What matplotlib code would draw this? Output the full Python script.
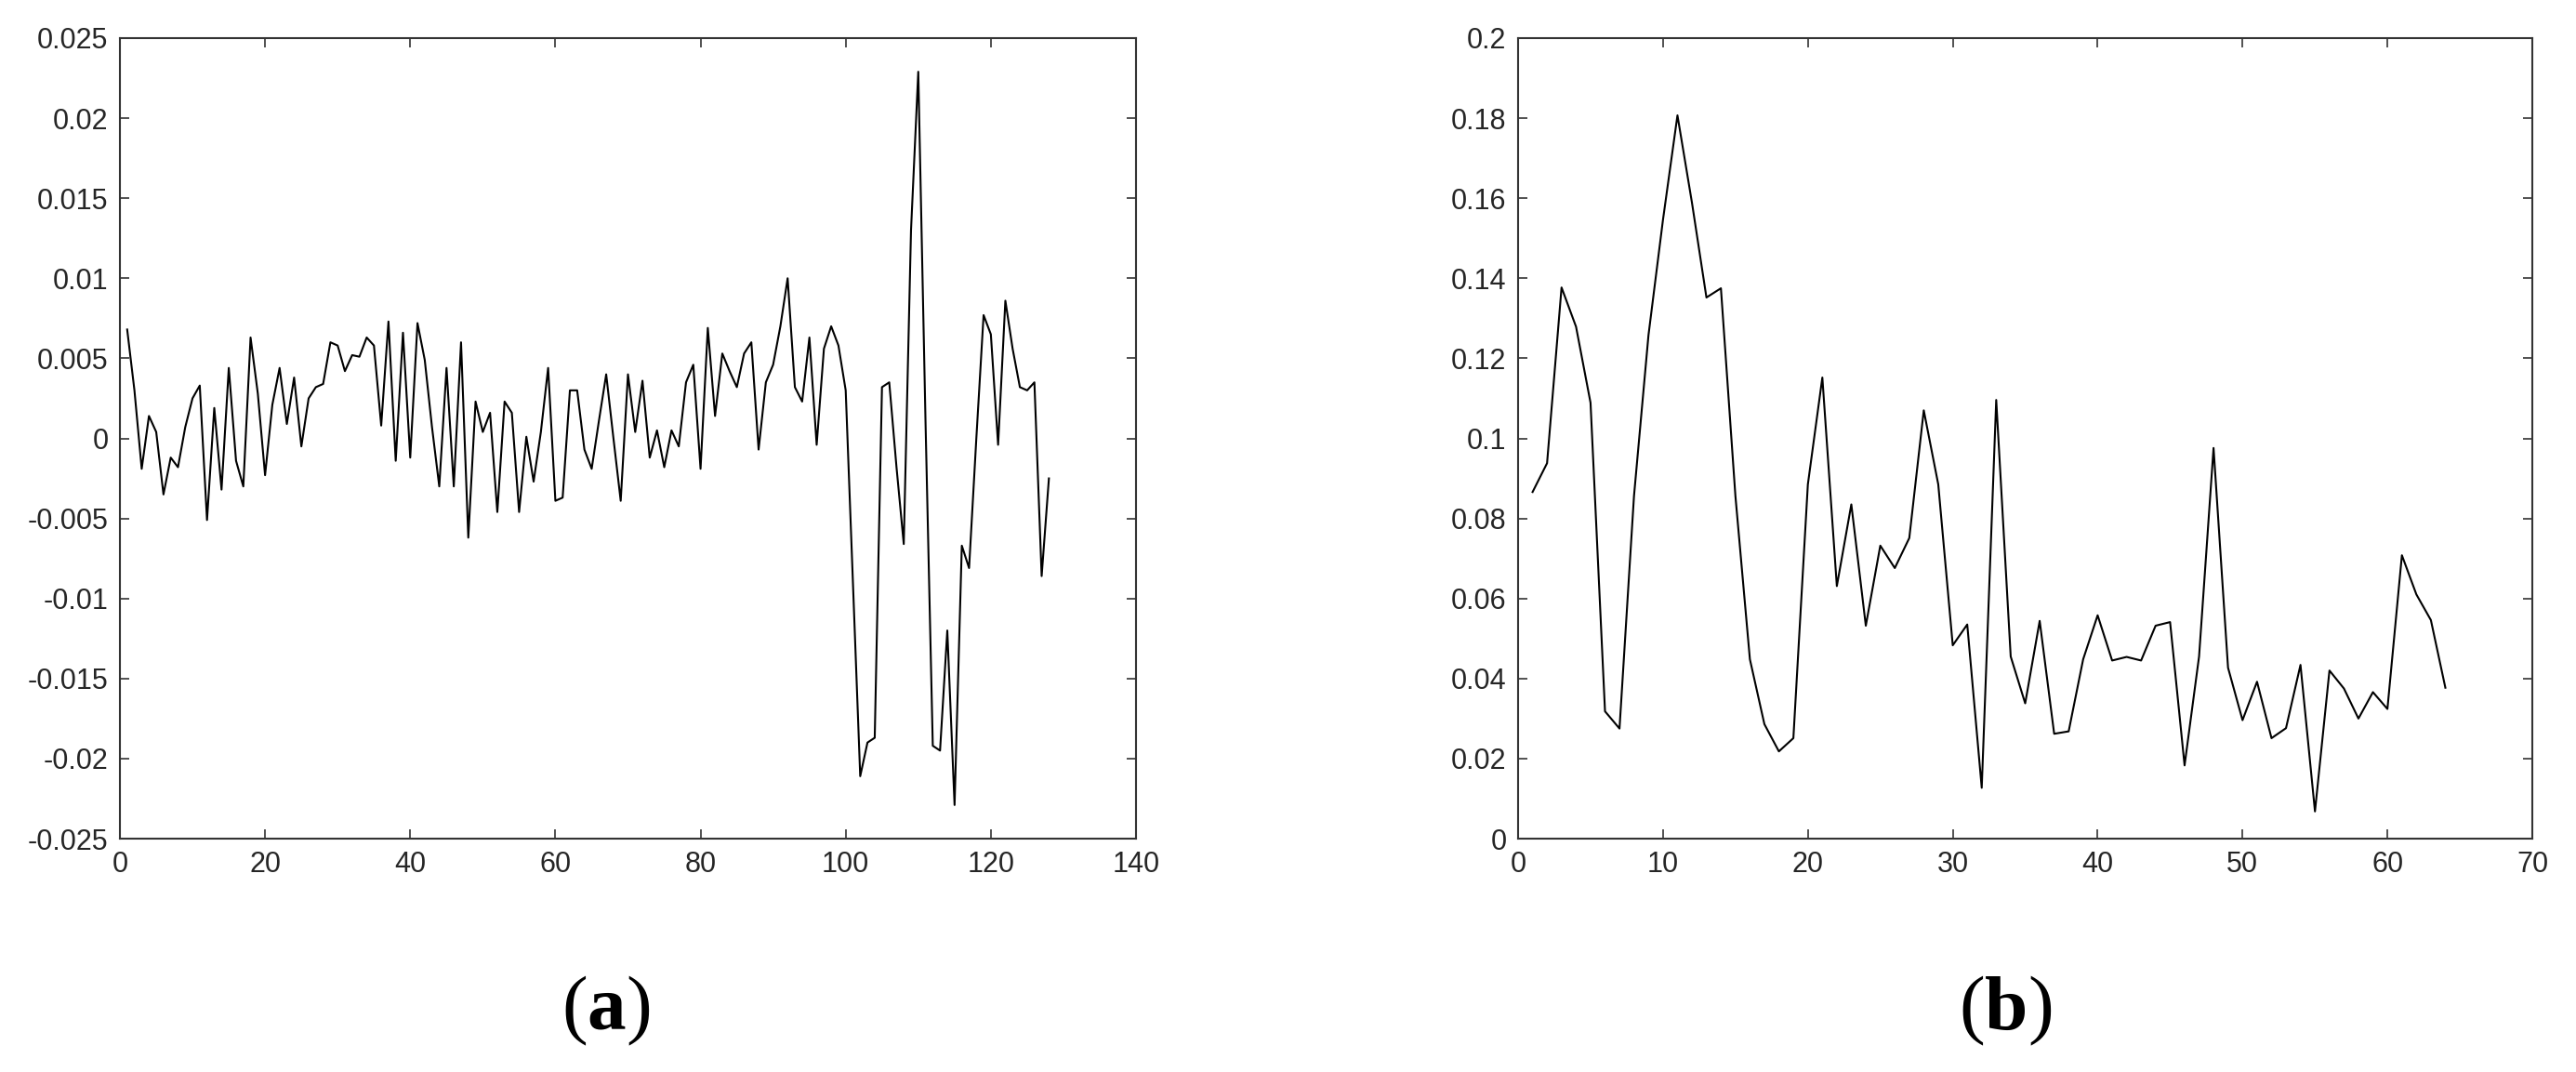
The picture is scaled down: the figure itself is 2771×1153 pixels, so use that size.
import matplotlib
matplotlib.use("Agg")
import matplotlib.pyplot as plt
from matplotlib.ticker import FuncFormatter, MultipleLocator
import numpy as np

# ---- data ----
left_values = [
    0.0068, 0.0030, -0.0019, 0.0014, 0.0004, -0.0035, -0.0012, -0.0018, 0.0007, 0.0025,
    0.0033, -0.0051, 0.0019, -0.0032, 0.0044, -0.0014, -0.0030, 0.0063, 0.0028, -0.0023,
    0.0021, 0.0044, 0.0009, 0.0038, -0.0005, 0.0025, 0.0032, 0.0034, 0.0060, 0.0058,
    0.0042, 0.0052, 0.0051, 0.0063, 0.0058, 0.0008, 0.0073, -0.0014, 0.0066, -0.0012,
    0.0072, 0.0049, 0.0007, -0.0030, 0.0044, -0.0030, 0.0060, -0.0062, 0.0023, 0.0004,
    0.0016, -0.0046, 0.0023, 0.0016, -0.0046, 0.0001, -0.0027, 0.0004, 0.0044, -0.0039,
    -0.0037, 0.0030, 0.0030, -0.0007, -0.0019, 0.0011, 0.0040, 0.0000, -0.0039, 0.0040,
    0.0004, 0.0036, -0.0012, 0.0005, -0.0018, 0.0005, -0.0005, 0.0035, 0.0046, -0.0019,
    0.0069, 0.0014, 0.0053, 0.0042, 0.0032, 0.0053, 0.0060, -0.0007, 0.0035, 0.0046,
    0.0070, 0.0100, 0.0032, 0.0023, 0.0063, -0.0004, 0.0056, 0.0070, 0.0058, 0.0030,
    -0.0090, -0.0211, -0.0190, -0.0187, 0.0032, 0.0035, -0.0018, -0.0066, 0.0130, 0.0229,
    0.0010, -0.0192, -0.0195, -0.0120, -0.0229, -0.0067, -0.0081, 0.0000, 0.0077, 0.0065,
    -0.0004, 0.0086, 0.0056, 0.0032, 0.0030, 0.0035, -0.0086, -0.0025,
]
right_values = [
    0.0866, 0.0938, 0.1377, 0.1279, 0.1089, 0.0318, 0.0275, 0.0856, 0.1258, 0.1546,
    0.1807, 0.1589, 0.1352, 0.1375, 0.0856, 0.0448, 0.0286, 0.0218, 0.0251, 0.0885,
    0.1152, 0.0631, 0.0835, 0.0532, 0.0732, 0.0676, 0.0751, 0.1070, 0.0885, 0.0483,
    0.0535, 0.0127, 0.1096, 0.0455, 0.0338, 0.0544, 0.0262, 0.0268, 0.0448, 0.0558,
    0.0445, 0.0454, 0.0445, 0.0532, 0.0541, 0.0183, 0.0455, 0.0976, 0.0427, 0.0296,
    0.0392, 0.0251, 0.0276, 0.0434, 0.0068, 0.0420, 0.0375, 0.0300, 0.0366, 0.0324,
    0.0708, 0.0610, 0.0546, 0.0377,
]
left_x = list(range(1, len(left_values) + 1))
right_x = list(range(1, len(right_values) + 1))
panel_labels = ["a", "b"]

plt.rcParams["font.family"] = ["Liberation Sans", "DejaVu Sans"]
plt.rcParams["axes.unicode_minus"] = False
plt.rcParams["mathtext.fontset"] = "custom"
plt.rcParams["mathtext.rm"] = "Liberation Serif"
plt.rcParams["mathtext.bf"] = "Liberation Serif:bold"

W, H = 2771, 1153
fig = plt.figure(figsize=(W / 100, H / 100), dpi=100)

ax1 = fig.add_axes([129 / W, 1 - 902 / H, 1093 / W, 861 / H])
ax2 = fig.add_axes([1633 / W, 1 - 902 / H, 1091 / W, 861 / H])

spine_col = "#333333"
text_col = "#262626"


def fmt(v, pos):
    v = round(v, 6)
    if v == 0:
        return "0"
    return "%g" % v


def style(ax):
    for s in ax.spines.values():
        s.set_color(spine_col)
        s.set_linewidth(1.5)
    ax.tick_params(direction="in", length=7, width=1.2, colors=spine_col,
                   labelcolor=text_col, labelsize=22, pad=9,
                   top=True, right=True)
    ax.xaxis.set_major_formatter(FuncFormatter(fmt))
    ax.yaxis.set_major_formatter(FuncFormatter(fmt))


ax1.plot(left_x, left_values, color="black", linewidth=1.5)
ax1.set_xlim(0, 140)
ax1.set_ylim(-0.025, 0.025)
ax1.xaxis.set_major_locator(MultipleLocator(20))
ax1.yaxis.set_major_locator(MultipleLocator(0.005))
style(ax1)

ax2.plot(right_x, right_values, color="black", linewidth=1.5)
ax2.set_xlim(0, 70)
ax2.set_ylim(0, 0.2)
ax2.xaxis.set_major_locator(MultipleLocator(10))
ax2.yaxis.set_major_locator(MultipleLocator(0.02))
style(ax2)

fig.text(652 / W, 1 - 1087 / H, r"($\mathbf{%s}$)" % panel_labels[0],
         fontsize=60, family="Liberation Serif", ha="center", va="center")
fig.text(2157 / W, 1 - 1087 / H, r"($\mathbf{%s}$)" % panel_labels[1],
         fontsize=60, family="Liberation Serif", ha="center", va="center")

fig.savefig("out.png", dpi=100, facecolor="white")
